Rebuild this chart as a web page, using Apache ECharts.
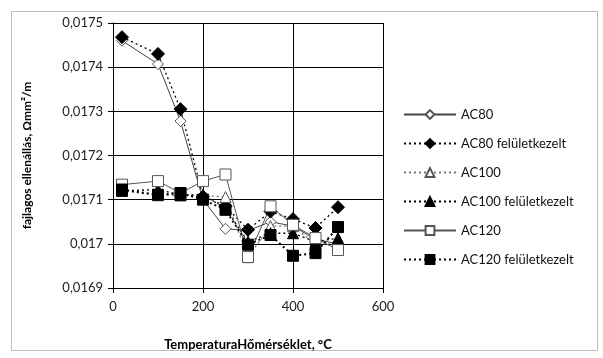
<!DOCTYPE html>
<html>
<head>
<meta charset="utf-8">
<script src="https://cdn.jsdelivr.net/npm/echarts@6/dist/echarts.min.js"></script>
<style>
  html, body { margin: 0; padding: 0; background: #fff; }
  #chart { width: 603px; height: 358px; }
</style>
</head>
<body>
<div id="chart"></div>
<script>
// hőmérséklet, °C
var temps = [20, 100, 150, 200, 250, 300, 350, 400, 450, 500];
var seriesNames = ['AC80', 'AC80 felületkezelt', 'AC100', 'AC100 felületkezelt', 'AC120', 'AC120 felületkezelt'];

// fajlagos ellenállás értékek
var ac80 = [0.01746, 0.017407, 0.017278, 0.01710, 0.017034, 0.01703, 0.01705, 0.01704, 0.01701, 0.01700];
var ac80f = [0.017468, 0.01743, 0.017305, 0.017107, 0.017085, 0.017032, 0.017073, 0.017056, 0.017036, 0.017083];
var ac100 = [0.01712, 0.01711, 0.01711, 0.01711, 0.017106, 0.01697, 0.01704, 0.01704, 0.01700, 0.01700];
var ac100f = [0.01712, 0.017123, 0.01711, 0.017111, 0.01708, 0.017005, 0.017024, 0.017024, 0.017005, 0.017013];
var ac120 = [0.017134, 0.017142, 0.017115, 0.017142, 0.017157, 0.01697, 0.017085, 0.017043, 0.017013, 0.016986];
var ac120f = [0.017123, 0.017111, 0.017115, 0.0171, 0.017077, 0.016998, 0.01702, 0.016973, 0.016979, 0.017038];

var xTicks = [0, 200, 400, 600];

function pairs(vals) {
    return temps.map(function (t, i) { return [t, vals[i]]; });
}

var FONT = 'Lato, "Open Sans", sans-serif';

function mkSeries(name, vals, symbol, size, fill, border, lineColor, lineType, lineWidth) {
    return {
        name: name,
        type: 'line',
        data: pairs(vals),
        symbol: symbol,
        symbolSize: size,
        showSymbol: true,
        animation: false,
        itemStyle: {
            color: fill,
            borderColor: border,
            borderWidth: 1
        },
        lineStyle: {
            color: lineColor,
            type: lineType,
            width: lineWidth
        },
        emphasis: { disabled: true }
    };
}

var chart = echarts.init(document.getElementById('chart'));
chart.setOption({
    backgroundColor: '#fff',
    textStyle: { fontFamily: FONT },
    graphic: [{
        type: 'rect',
        shape: { x: 11.5, y: 11.5, width: 586, height: 339 },
        style: { fill: 'none', stroke: '#bdbdbd', lineWidth: 1 },
        silent: true
    }],
    grid: { left: 113, right: 220, top: 23, bottom: 70 },
    legend: {
        orient: 'vertical',
        left: 398,
        top: 103,
        itemWidth: 52,
        itemHeight: 11,
        itemGap: 16,
        data: seriesNames,
        textStyle: { fontFamily: FONT, fontSize: 13, color: '#111' }
    },
    xAxis: {
        type: 'value',
        min: 0,
        max: 600,
        interval: 200,
        name: 'TemperaturaHőmérséklet, °C',
        nameLocation: 'middle',
        nameGap: 50,
        nameTextStyle: { fontFamily: FONT, fontSize: 13, fontWeight: 'bold', color: '#000' },
        axisLine: { show: true, lineStyle: { color: '#000', width: 1 } },
        axisTick: { show: true, inside: false, length: 5, lineStyle: { color: '#000' } },
        axisLabel: {
            fontFamily: FONT, fontSize: 13, color: '#222', margin: 12,
            formatter: function (v) { return xTicks.indexOf(v) >= 0 ? String(v) : ''; }
        },
        splitLine: { show: true, lineStyle: { color: '#000', width: 1 } }
    },
    yAxis: {
        type: 'value',
        min: 0.0169,
        max: 0.0175,
        interval: 0.0001,
        name: 'fajlagos ellenállás, Ωmm²/m',
        nameLocation: 'middle',
        nameGap: 80,
        nameTextStyle: { fontFamily: FONT, fontSize: 12, fontWeight: 'bold', color: '#000' },
        axisLine: { show: true, lineStyle: { color: '#000', width: 1 } },
        axisTick: { show: true, inside: false, length: 5, lineStyle: { color: '#000' } },
        axisLabel: {
            fontFamily: FONT, fontSize: 13, color: '#222', margin: 10,
            formatter: function (v) {
                return parseFloat(v.toFixed(4)).toString().replace('.', ',');
            }
        },
        splitLine: { show: true, lineStyle: { color: '#000', width: 1 } }
    },
    series: [
        mkSeries('AC80', ac80, 'diamond', 11, '#fff', '#555', '#444', 'solid', 1),
        mkSeries('AC80 felületkezelt', ac80f, 'diamond', 13, '#000', '#000', '#000', [2, 3], 1.3),
        mkSeries('AC100', ac100, 'triangle', 11, '#fff', '#555', '#777', [2, 3], 1.3),
        mkSeries('AC100 felületkezelt', ac100f, 'triangle', 11, '#000', '#000', '#000', [2, 3], 1.3),
        mkSeries('AC120', ac120, 'rect', 11, '#fff', '#555', '#555', 'solid', 1),
        mkSeries('AC120 felületkezelt', ac120f, 'rect', 11, '#000', '#000', '#000', [2, 3], 2)
    ]
});
</script>
</body>
</html>
